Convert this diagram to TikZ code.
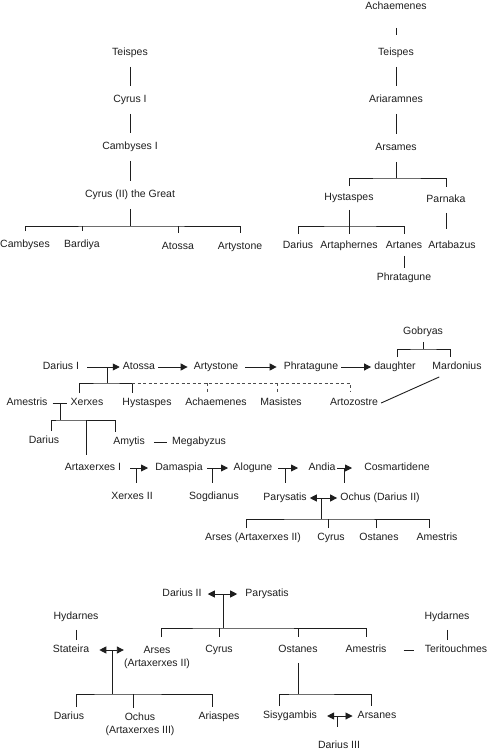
\documentclass[tikz,border=0pt]{standalone}
\usepackage{fontspec}
\setmainfont{Liberation Sans}
\usetikzlibrary{arrows.meta}
\definecolor{ink}{HTML}{1E1E1E}
\newcommand\kinfont{\fontsize{10.5}{13}\selectfont}
\tikzset{
  kin/.style={font=\kinfont, text=ink, inner xsep=3pt, inner ysep=5pt},
  person/.style={kin, text height=7.5pt, text depth=2pt},
  pair/.style={kin, align=center, inner xsep=0pt},
  link/.style={draw=ink, line width=.9pt},
  stem/.style={link, shorten <=4pt, shorten >=4pt},
  wed/.style={link, -{Triangle[length=7pt,width=7pt]}},
  bothwed/.style={link, {Triangle[length=7pt,width=7pt]}-{Triangle[length=7pt,width=7pt]}},
  maybe/.style={draw=ink!80, line width=.7pt, dash pattern=on 3pt off 2.5pt}
}
\begin{document}
\begin{tikzpicture}[x=1pt,y=-1pt]
  \useasboundingbox (0,0) rectangle (491,751);

  % line of Cyrus
  \node[person] (teiL) at (130,53) {Teispes};
  \node[person] (cyI) at (130,100) {Cyrus I};
  \node[person] (camI) at (130,147) {Cambyses I};
  \node[person] (cyG) at (130,195) {Cyrus (II) the Great};
  \node[person] (camb) at (25,245) {Cambyses};
  \node[person] (bard) at (82,245) {Bardiya};
  \node[person] (atoL) at (178,247) {Atossa};
  \node[person] (artyL) at (240,247) {Artystone};
  \draw[stem] (teiL) -- (cyI);
  \draw[stem] (cyI) -- (camI);
  \draw[stem] (camI) -- (cyG);
  \draw[link, shorten <=4pt] (cyG) -- (130,226) coordinate (bC);
  \draw[stem] (camb) |- (bC) -| (artyL);
  \draw[link, shorten >=4pt] (bard |- bC) -- (bard);
  \draw[link, shorten >=4pt] (atoL |- bC) -- (atoL);

  % line of Ariaramnes
  \node[person] (achR) at (396,7) {Achaemenes};
  \node[person] (teiR) at (396,53) {Teispes};
  \node[person] (ariR) at (396,100) {Ariaramnes};
  \node[person] (arsR) at (396,148) {Arsames};
  \node[person] (hysR) at (349,198) {Hystaspes};
  \node[person] (parR) at (446,200) {Parnaka};
  \node[person] (darR) at (298,246) {Darius};
  \node[person] (aphR) at (349,246) {Artaphernes};
  \node[person] (atnR) at (404,246) {Artanes};
  \node[person] (abzR) at (452,246) {Artabazus};
  \node[person] (phrR) at (404,278) {Phratagune};
  \draw[link, shorten <=11pt, shorten >=8pt] (achR) -- (teiR);
  \draw[stem] (teiR) -- (ariR);
  \draw[stem] (ariR) -- (arsR);
  \draw[link, shorten <=4pt] (arsR) -- (396,178) coordinate (bA);
  \draw[link, shorten <=2pt, shorten >=3pt] (hysR) |- (bA) -| (parR);
  \coordinate (bH) at (349,226);
  \draw[link, shorten <=2pt, shorten >=2pt] (hysR) -- (aphR);
  \draw[link, shorten <=2pt, shorten >=2pt] (darR) |- (bH) -| (atnR);
  \draw[link, shorten <=3pt, shorten >=7pt] (parR) -- (parR |- abzR.north);
  \draw[link] (atnR) -- (phrR);

  % Darius I and his wives
  \node[person] (gobM) at (423,332) {Gobryas};
  \node[person] (darI) at (61,367) {Darius I};
  \node[person] (atoM) at (139,367) {Atossa};
  \node[person] (artyM) at (216,367) {Artystone};
  \node[person] (phrM) at (311,367) {Phratagune};
  \node[person] (daugM) at (395,367) {daughter};
  \node[person] (marM) at (457,367) {Mardonius};
  \draw[wed, shorten <=5pt] (darI) -- (atoM);
  \draw[wed, shorten >=3pt] (atoM) -- (artyM);
  \draw[wed, shorten <=4pt, shorten >=4pt] (artyM) -- (phrM);
  \draw[wed] (phrM) -- (daugM);
  \draw[link] (gobM) -- (423,349) coordinate (bG);
  \draw[link] ([xshift=2pt]daugM.north) |- (bG) -| ([xshift=-7pt]marM.north);

  \node[person] (amesM) at (27,403) {Amestris};
  \node[person] (xerM) at (87,403) {Xerxes};
  \node[person] (hysM) at (147,403) {Hystaspes};
  \node[person] (achM) at (216,403) {Achaemenes};
  \node[person] (masM) at (281,403) {Masistes};
  \node[person] (artzM) at (354,403) {Artozostre};
  \coordinate (jD) at (107,367);
  \coordinate (bD) at (107,383);
  \draw[link] (jD) -- (bD);
  \draw[link] ([xshift=-8pt]xerM.north) |- (bD) -| ([xshift=-15pt]hysM.north);
  \draw[maybe] (132,383) -- (350,383) -- (350,392);
  \foreach \x in {207,277}
    \draw[maybe] (\x,383) -- (\x,392);
  \draw[link] ([xshift=10pt]marM.south west) -- (artzM.east);

  % Xerxes and Amestris
  \node[person] (darM) at (44,441) {Darius};
  \node[person] (amyM) at (129,442) {Amytis};
  \node[person] (megM) at (199,442) {Megabyzus};
  \node[person] (axI) at (93,468) {Artaxerxes I};
  \draw[link, shorten <=2pt] (amesM) -- (xerM);
  \draw[link] (60,403) -- (60,420) coordinate (bX);
  \draw[link] ([xshift=7pt]darM.north) |- (bX) -| ([xshift=-14pt]amyM.north);
  \draw[link, shorten >=3pt] (86,420) -- (axI.north -| 86,0);
  \draw[link, shorten <=6pt, shorten >=2pt] (amyM) -- (megM);

  % wives of Artaxerxes I
  \node[person] (damM) at (179,468) {Damaspia};
  \node[person] (aloM) at (253,468) {Alogune};
  \node[person] (andM) at (322,468) {Andia};
  \node[person] (cosM) at (397,468) {Cosmartidene};
  \node[person] (xerII) at (132,497) {Xerxes II};
  \node[person] (sogM) at (214,497) {Sogdianus};
  \node[person] (parM) at (285,498) {Parysatis};
  \node[person] (ochM) at (380,498) {Ochus (Darius II)};
  \foreach \a/\b/\m in {130/148/136, 207/228/212, 278/298/285, 337/352/344} {
    \draw[wed] (\a,468) -- (\b,468);
    \draw[link] (\m,468) -- (\m,483);
  }
  \draw[bothwed] (parM) -- (ochM);
  \draw[link] (321,498) -- (321,519) coordinate (bP);

  \node[person] (arsM) at (253,538) {Arses (Artaxerxes II)};
  \node[person] (cyM) at (331,538) {Cyrus};
  \node[person] (ostM) at (379,538) {Ostanes};
  \node[person] (amesP) at (437,538) {Amestris};
  \draw[link] ([xshift=-7pt]arsM.north) |- (bP) -| ([xshift=-8pt]amesP.north);
  \draw[link] ([xshift=-3pt]cyM.north) -- ++(0,-9);
  \draw[link] ([xshift=-3pt]ostM.north) -- ++(0,-9);

  % Darius II and Parysatis
  \node[person] (darII) at (182,594) {Darius II};
  \node[person] (parB) at (267,594) {Parysatis};
  \draw[bothwed, shorten <=3pt, shorten >=5pt] (darII) -- (parB);
  \draw[link] (223,594) -- (223,628) coordinate (bB);

  \node[person] (hydL) at (76,617) {Hydarnes};
  \node[person] (hydR) at (447,617) {Hydarnes};
  \node[person] (statB) at (71,650) {Stateira};
  \node[pair, anchor=north] (arsB) at (157,641) {Arses\\(Artaxerxes II)};
  \node[person] (cyB) at (219,650) {Cyrus};
  \node[person] (ostB) at (298,650) {Ostanes};
  \node[person] (amesB) at (366,650) {Amestris};
  \node[person] (terB) at (456,650) {Teritouchmes};
  \draw[link, shorten <=4pt, shorten >=3pt] ([xshift=4pt]arsB.north) |- (bB) -| (amesB);
  \draw[link, shorten >=3pt] (cyB |- bB) -- (cyB);
  \draw[link, shorten >=3pt] (ostB |- bB) -- (ostB);
  \draw[link, shorten <=14pt, shorten >=8pt] (amesB) -- (terB);
  \draw[link, shorten <=3pt] (hydR) -- (hydR |- terB.north);
  \draw[link, shorten <=3pt] (hydL) -- (hydL |- statB.north);

  % Artaxerxes II and Stateira
  \draw[bothwed, shorten <=7pt] (statB) -- (statB -| arsB.west);
  \draw[link] (112,650) -- (112,694) coordinate (bS);
  \node[person] (darB) at (69,717) {Darius};
  \node[pair, anchor=north] (ochB) at (140,708) {Ochus\\(Artaxerxes III)};
  \node[person] (ariB) at (219,717) {Ariaspes};
  \draw[link] ([xshift=7pt]darB.north) |- (bS) -| ([xshift=-7pt]ariB.north);
  \draw[link] ([xshift=-7pt]ochB.north) -- ++(0,-14);

  % Ostanes
  \coordinate (bO) at (298,694);
  \node[person] (sisB) at (290,716) {Sisygambis};
  \node[person] (arsnB) at (377,716) {Arsanes};
  \node[person] (darIII) at (339,746) {Darius III};
  \draw[link, shorten <=3pt] (ostB) -- (bO);
  \draw[link] ([xshift=-11pt]sisB.north) |- (bO) -| ([xshift=-6pt]arsnB.north);
  \draw[bothwed, shorten <=7pt, shorten >=2pt] (sisB) -- (arsnB);
  \draw[link] (337,716) -- (337,727);
\end{tikzpicture}
\end{document}
